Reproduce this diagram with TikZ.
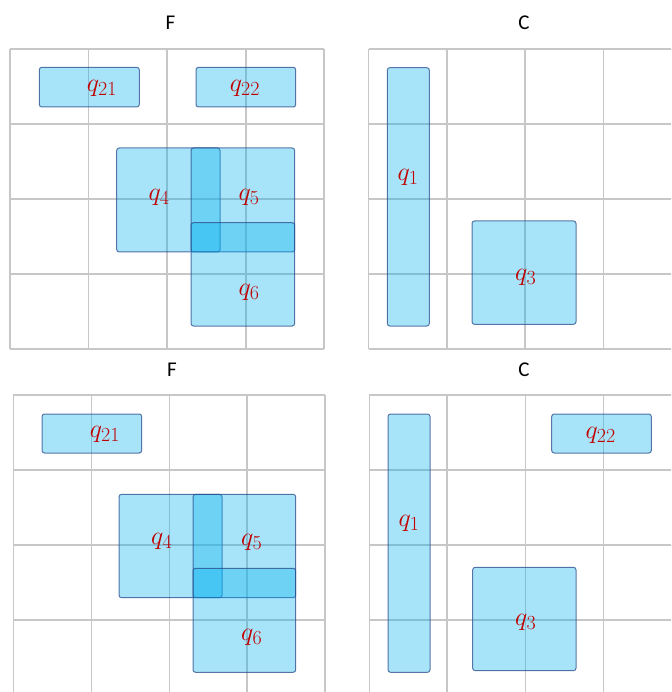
\documentclass[tikz,border=0pt]{standalone}
\usepackage{fix-cm}
\usepackage{fontspec}
\setmainfont{Carlito}
\usepackage{amsmath}
\DeclareMathSizes{26}{26}{20}{16}
\begin{document}
\begin{tikzpicture}[x=1pt,y=-1pt,
  gridline/.style={draw=black!22,line width=1.3pt},
  qbox/.style={fill={rgb,255:red,0;green,176;blue,240},fill opacity=0.34,
    draw={rgb,255:red,40;green,75;blue,140},draw opacity=0.75,line width=1pt,rounded corners=2.5pt},
  lab/.style={text={rgb,255:red,192;green,0;blue,0},font=\fontsize{26}{30}\selectfont,inner sep=0pt},
  ttl/.style={font=\fontsize{21}{24}\selectfont,inner sep=0pt}]
\useasboundingbox (0,0) rectangle (671,692);
\clip (0,0) rectangle (671,692);
\fill[white] (0,0) rectangle (671,692);
% grids
\foreach \x in {10,88.5,167,246,324}{\draw[gridline] (\x,49) -- (\x,349);}
\foreach \y in {49,124,199,274,349}{\draw[gridline] (10,\y) -- (324,\y);}
\foreach \x in {368.5,447,525,603.5}{\draw[gridline] (\x,49) -- (\x,349);}
\foreach \y in {49,124,199,274,349}{\draw[gridline] (368.5,\y) -- (680,\y);}
\foreach \x in {13.3,91.3,169.3,247,325}{\draw[gridline] (\x,395) -- (\x,700);}
\foreach \y in {395,470,545,620}{\draw[gridline] (13.3,\y) -- (325,\y);}
\foreach \x in {369.3,447,525.3,603.3}{\draw[gridline] (\x,395) -- (\x,700);}
\foreach \y in {395,470,545,620}{\draw[gridline] (369.3,\y) -- (680,\y);}
% titles
\node[ttl] (tF1) at (170.5,23) {F};
\node[ttl] (tC1) at (524,23) {C};
\node[ttl] (tF2) at (172,370) {F};
\node[ttl] (tC2) at (524,370) {C};
% top F
\path[qbox] (39.3,67.3) rectangle (139.3,107);
\path[qbox] (196,67.3) rectangle (295.7,107);
\path[qbox] (116.7,148) rectangle (220,252);
\path[qbox] (191,148) rectangle (294.7,252);
\path[qbox] (191,222.7) rectangle (294.7,326);
\node[lab] (a21) at (102,88) {$q_{21}$};
\node[lab] (a22) at (245,88) {$q_{22}$};
\node[lab] (a4) at (159,197) {$q_{4}$};
\node[lab] (a5) at (249,197) {$q_{5}$};
\node[lab] (a6) at (249,292) {$q_{6}$};
% top C
\path[qbox] (387.3,67.7) rectangle (429.3,326);
\path[qbox] (472,221) rectangle (576,324.3);
\node[lab] (a1) at (408,177) {$q_{1}$};
\node[lab] (a3) at (525.7,277) {$q_{3}$};
% bottom F
\path[qbox] (42,414) rectangle (141.7,453);
\path[qbox] (119,494.3) rectangle (222,597.7);
\path[qbox] (193,494.3) rectangle (295.7,597.7);
\path[qbox] (193,568.3) rectangle (295.7,672.3);
\node[lab] (b21) at (105,434) {$q_{21}$};
\node[lab] (b4) at (161.7,541.7) {$q_{4}$};
\node[lab] (b5) at (251.7,542) {$q_{5}$};
\node[lab] (b6) at (251.7,637.3) {$q_{6}$};
% bottom C
\path[qbox] (388,414) rectangle (430,672.3);
\path[qbox] (551.7,414) rectangle (651.3,453);
\path[qbox] (472.7,567.3) rectangle (576,670.7);
\node[lab] (b1) at (409,523) {$q_{1}$};
\node[lab] (b22) at (600.7,435) {$q_{22}$};
\node[lab] (b3) at (525.7,622.3) {$q_{3}$};
\end{tikzpicture}
\end{document}
